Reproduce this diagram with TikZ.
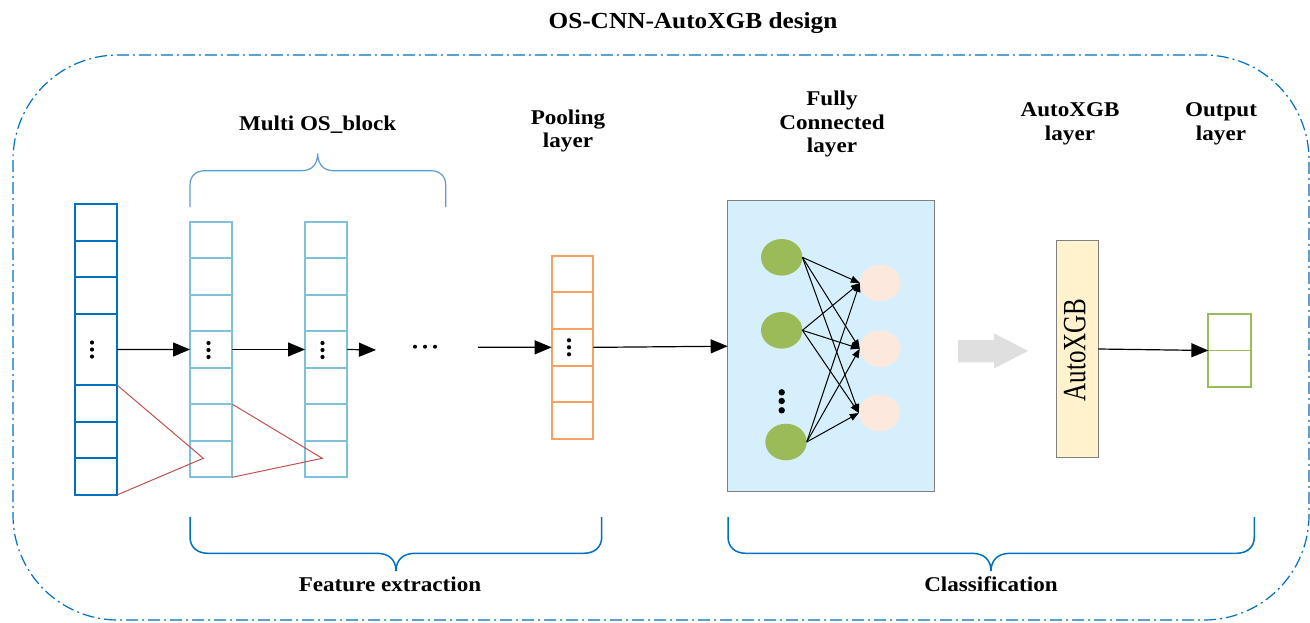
\documentclass[tikz,border=0pt]{standalone}
\usepackage{fontspec}
\setmainfont{Liberation Serif}
\newfontfamily\lblfont[FakeStretch=1.1]{Liberation Serif}
\usetikzlibrary{arrows.meta,shapes.geometric}

\definecolor{frameblue}{RGB}{0,112,192}
\definecolor{braceblue}{RGB}{91,155,213}
\definecolor{cellblue}{RGB}{127,193,219}
\definecolor{poolorange}{RGB}{247,162,98}
\definecolor{kernred}{RGB}{192,80,77}
\definecolor{fcfill}{RGB}{213,240,252}
\definecolor{neurongreen}{RGB}{155,187,89}
\definecolor{neuronpink}{RGB}{252,232,220}
\definecolor{xgbfill}{RGB}{255,242,204}
\definecolor{boxgray}{RGB}{128,128,128}

\tikzset{
  lbl/.style={font=\lblfont\bfseries\fontsize{21}{23.5}\selectfont, align=center, inner sep=0pt},
  incell/.style={draw=frameblue, line width=2pt, minimum width=42pt, minimum height=36.6pt, inner sep=0pt, outer sep=0pt},
  blockcell/.style={draw=cellblue, line width=1.8pt, minimum width=42.3pt, minimum height=36.5pt, inner sep=0pt, outer sep=0pt},
  poolcell/.style={draw=poolorange, line width=1.8pt, minimum width=41.7pt, minimum height=36.66pt, inner sep=0pt, outer sep=0pt},
  flow/.style={line width=1.2pt, -{Triangle[length=17pt,width=14pt]}},
  link/.style={line width=1pt, -{Triangle[length=9pt,width=7pt]}},
  kern/.style={draw=kernred, line width=1pt},
  bracepath/.style={line width=1.5pt, draw=frameblue},
  neuronin/.style={ellipse, fill=neurongreen, minimum width=41.4pt, minimum height=36.6pt, inner sep=0pt, outer sep=0pt},
  neuronout/.style={ellipse, fill=neuronpink, minimum width=41pt, minimum height=36.6pt, inner sep=0pt, outer sep=0pt},
  vdots/.pic={\foreach \d in {-7,0,7} \fill (0,\d) circle[radius=2.1pt];},
  hdots/.pic={\foreach \d in {-10,0,10} \fill (\d,0) circle[radius=2pt];},
}

\begin{document}
\begin{tikzpicture}[x=1pt,y=-1pt]
\useasboundingbox (0,0) rectangle (1310,622);

% outer dash-dotted frame
\draw[frameblue, line width=1.2pt, dash pattern=on 12pt off 4pt on 2pt off 4pt, rounded corners=105pt]
  (13,55) rectangle (1309,620);

% title and section labels
\node[lbl, anchor=base, font=\lblfont\bfseries\fontsize{23}{26}\selectfont] (title) at (693,28.3) {OS-CNN-AutoXGB design};
\node[lbl, anchor=base] (multi) at (317.7,130.7) {Multi OS\_block};
\node[lbl] (poollbl) at (568,131) {Pooling\\layer};
\node[lbl] (fclbl) at (832,124) {Fully\\Connected\\layer};
\node[lbl] (xgblbl) at (1070,124) {AutoXGB\\layer};
\node[lbl] (outlbl) at (1221,124) {Output\\layer};
\node[lbl, anchor=base] (featlbl) at (390,591.7) {Feature extraction};
\node[lbl, anchor=base] (clslbl) at (991,591.7) {Classification};

% input series
\foreach \i/\y in {1/222.2,2/258.8,3/295.5,5/403.3,6/440,7/476.7}
  \node[incell] (in\i) at (96,\y) {};
\node[incell, minimum height=71pt] (in4) at (96,349.5) {};
\pic at (92,349.5) {vdots};

% two OS blocks
\foreach \i in {1,...,7} {
  \node[blockcell] (a\i) at (211.2,{221.7+(\i-0.5)*36.51}) {};
  \node[blockcell] (b\i) at (326.2,{221.7+(\i-0.5)*36.51}) {};
}
\pic at (208.5,350) {vdots};
\pic at (322.5,350) {vdots};

% receptive fields
\coordinate (k1) at (203.3,458.3);
\coordinate (k2) at (322.3,458.3);
\draw[kern] (in4.south east) -- (k1) -- (in7.south east);
\draw[kern] (a5.south east) -- (k2) -- (a7.south east);

% pooling layer
\foreach \i in {1,...,5}
  \node[poolcell] (p\i) at (572.5,{255.7+(\i-0.5)*36.66}) {};
\pic at (569,347.3) {vdots};

% fully connected layer
\node[draw=boxgray, line width=0.8pt, fill=fcfill, minimum width=206.3pt, minimum height=291pt, inner sep=0pt, outer sep=0pt] (fc) at (830.85,346.2) {};
\node[neuronin] (g1) at (781.7,257.3) {};
\node[neuronin] (g2) at (781.7,330.3) {};
\node[neuronin] (g3) at (786,442) {};
\node[neuronout] (q1) at (880.3,283) {};
\node[neuronout] (q2) at (880.3,348.7) {};
\node[neuronout] (q3) at (879.3,413) {};
\foreach \d in {392.3,401,410.3} \fill (781.7,\d) circle[radius=3.2pt];
\foreach \g in {g1,g2,g3}
  \foreach \q in {q1,q2,q3}
    \draw[link] (\g.east) -- (\q.west);

% wide grey arrow towards AutoXGB
\fill[gray!25] (958,340) -- (994,340) -- (994,333.3) -- (1028,351) -- (994,368.5) -- (994,362.3) -- (958,362.3) -- cycle;

% AutoXGB layer
\node[draw=boxgray, line width=0.8pt, fill=xgbfill, minimum width=41.6pt, minimum height=216.6pt, inner sep=0pt, outer sep=0pt] (xgb) at (1077.5,349) {};
\node[rotate=90, inner sep=0pt, font=\fontsize{25}{25}\selectfont] (xgbtext) at (1074.7,350) {\scalebox{1}[1.3]{AutoXGB}};

% output layer
\node[draw=neurongreen, line width=1.8pt, minimum width=42.7pt, minimum height=72.4pt, inner sep=0pt, outer sep=0pt] (out) at (1229.7,350.5) {};
\draw[neurongreen, line width=1.8pt] (out.west) -- (out.east);

% data flow
\coordinate (flowend) at (376,350);
\coordinate (flowstart) at (478,347.3);
\draw[flow] (in4.east) -- (a4.west);
\draw[flow] (a4.east) -- (b4.west);
\draw[flow] (b4.east) -- (flowend);
\pic at (425,346.7) {hdots};
\draw[flow] (flowstart) -- (p3.west);
\draw[flow] (p3.east) -- (fc.west);
\draw[flow] (xgb.east) -- (out.west);

% braces
\draw[braceblue, line width=1.2pt]
  (190,207) -- (190,185) .. controls (190,176) and (196,170.7) .. (205,170.7)
  -- (302,170.7) .. controls (312,170.7) and (317.7,164) .. (317.7,153.3)
  .. controls (317.7,164) and (323.4,170.7) .. (333.4,170.7)
  -- (430.7,170.7) .. controls (439.7,170.7) and (445.7,176) .. (445.7,185) -- (445.7,207);
\draw[bracepath]
  (190,517) -- (190,537) .. controls (190,547) and (197,553.3) .. (208,553.3)
  -- (377,553.3) .. controls (389,553.3) and (396,560) .. (396,571)
  .. controls (396,560) and (403,553.3) .. (415,553.3)
  -- (583.7,553.3) .. controls (594.7,553.3) and (601.7,547) .. (601.7,537) -- (601.7,517);
\draw[bracepath]
  (728,517) -- (728,537) .. controls (728,547) and (735,553.3) .. (746,553.3)
  -- (972,553.3) .. controls (984,553.3) and (991,560) .. (991,571)
  .. controls (991,560) and (998,553.3) .. (1010,553.3)
  -- (1236.3,553.3) .. controls (1247.3,553.3) and (1254.3,547) .. (1254.3,537) -- (1254.3,517);
\end{tikzpicture}
\end{document}
